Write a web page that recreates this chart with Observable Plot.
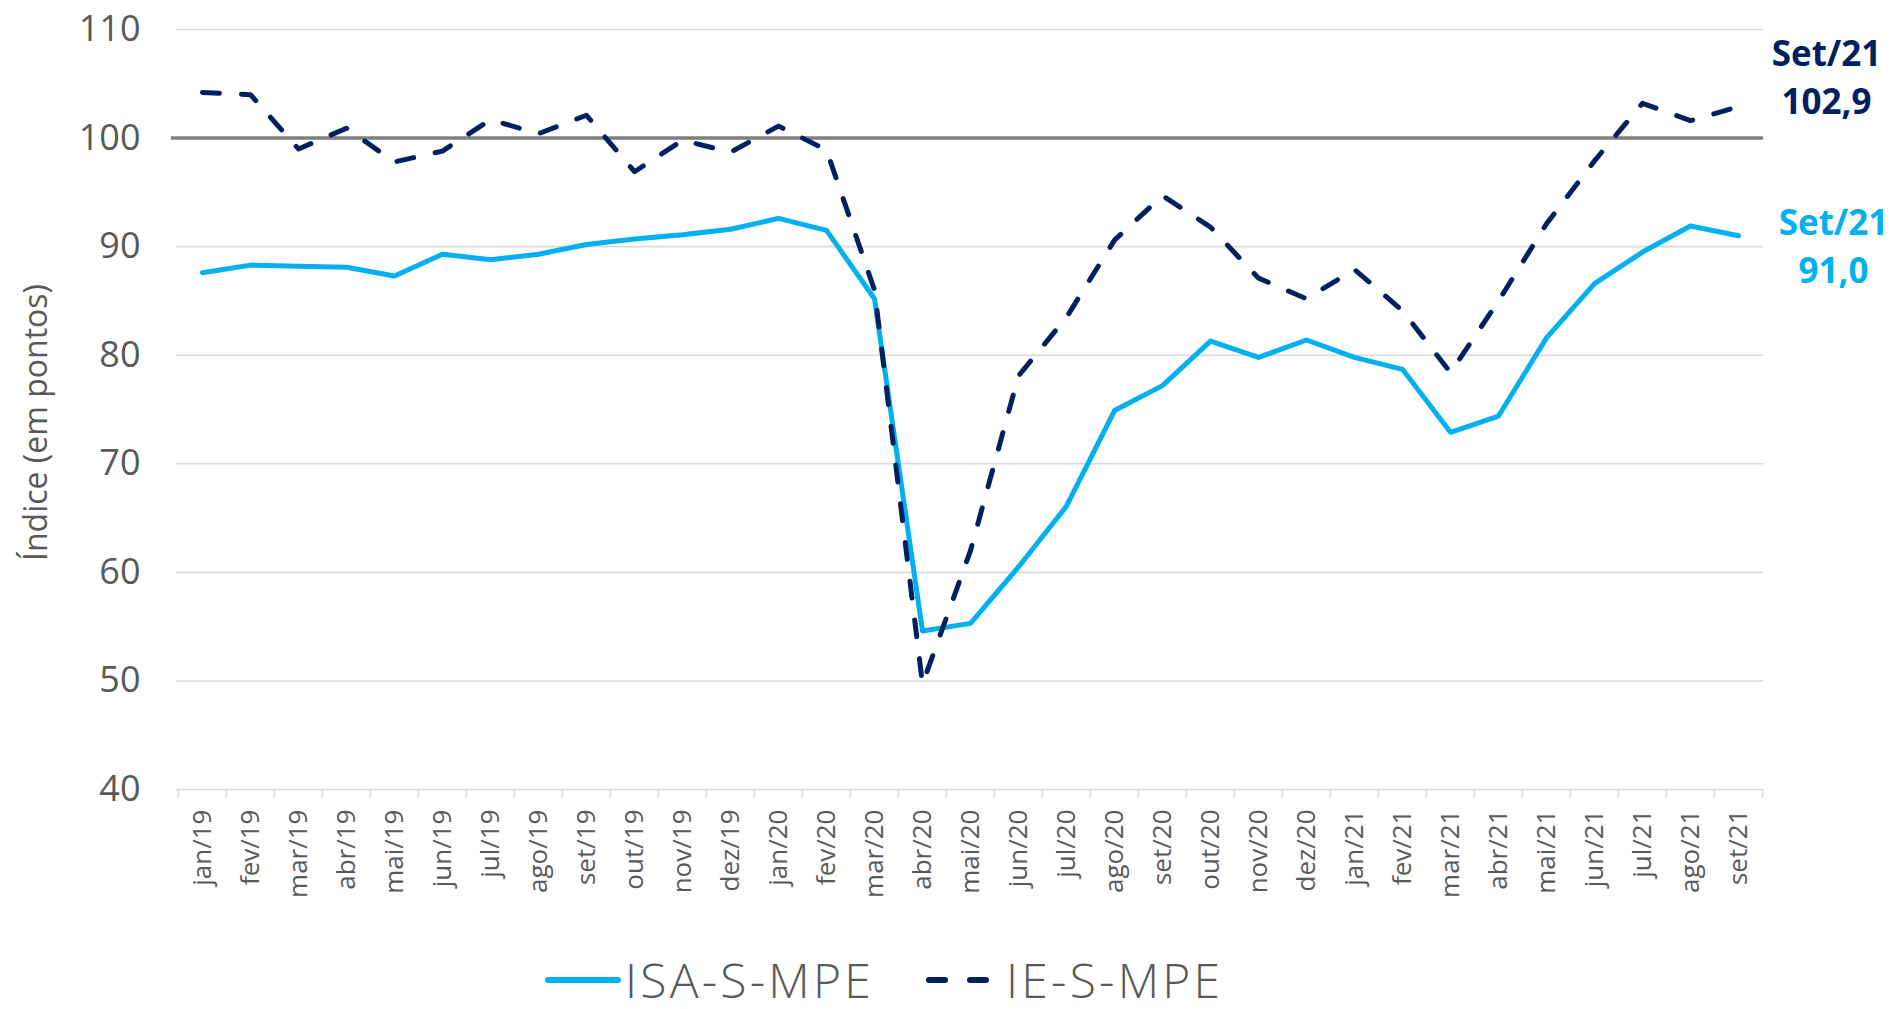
<!DOCTYPE html>
<html>
<head>
<meta charset="utf-8">
<script src="https://cdn.jsdelivr.net/npm/d3@7"></script>
<script src="https://cdn.jsdelivr.net/npm/@observablehq/plot@0.6"></script>
<style>
  html, body { margin: 0; padding: 0; background: #fff; }
  #wrap { position: relative; width: 1896px; height: 1009px; font-family: "Open Sans", sans-serif; }
  #legend { position: absolute; left: 545px; top: 955px; height: 50px; display: flex; align-items: center; color: #595959; font-size: 48px; line-height: 1; font-weight: 300; letter-spacing: 3.2px; white-space: nowrap; }
  #legend .item { display: flex; align-items: center; }
  #legend svg { display: block; }
</style>
</head>
<body>
<div id="wrap">
  <div id="chart"></div>
  <div id="legend"></div>
</div>
<script>
const months = ["jan/19","fev/19","mar/19","abr/19","mai/19","jun/19","jul/19","ago/19","set/19","out/19","nov/19","dez/19",
                "jan/20","fev/20","mar/20","abr/20","mai/20","jun/20","jul/20","ago/20","set/20","out/20","nov/20","dez/20",
                "jan/21","fev/21","mar/21","abr/21","mai/21","jun/21","jul/21","ago/21","set/21"];
const isa = [87.6, 88.3, 88.2, 88.1, 87.3, 89.3, 88.8, 89.3, 90.2, 90.7, 91.1, 91.6,
             92.6, 91.5, 85.2, 54.6, 55.3, 60.5, 66.1, 74.9, 77.2, 81.3, 79.8, 81.4,
             79.8, 78.7, 72.9, 74.4, 81.6, 86.6, 89.5, 91.9, 91.0];
const ie  = [104.2, 104.0, 99.0, 100.9, 97.8, 98.8, 101.7, 100.4, 102.1, 96.9, 99.8, 98.7,
             101.1, 98.9, 86.0, 49.7, 62.0, 78.1, 83.5, 90.6, 94.7, 91.8, 87.1, 85.2,
             87.9, 84.1, 78.4, 85.0, 92.1, 97.9, 103.2, 101.6, 102.9];
const seriesNames = ["ISA-S-MPE", "IE-S-MPE"];
const yTicks = [40, 50, 60, 70, 80, 90, 100, 110];
const refValue = [100];
const yTitle = "Índice (em pontos)";
const endLabel = "Set/21";

const cLight = "#00b0f0", cDark = "#002060", cText = "#595959", cGrid = "#d9d9d9";

const isaData = months.map((m, i) => ({month: m, value: isa[i]}));
const ieData = months.map((m, i) => ({month: m, value: ie[i]}));
const fmt = v => v.toFixed(1).replace(".", ",");
const last = months.length - 1;
const endIE = [{month: months[last], value: ie[last], text: endLabel + "\n" + fmt(ie[last])}];
const endISA = [{month: months[last], value: isa[last], text: endLabel + "\n" + fmt(isa[last])}];

const W = 1896, H = 915, mL = 176, mR = 133, mT = 29, mB = 126;
const step = (W - mL - mR) / months.length;

const chart = Plot.plot({
  width: W, height: H,
  marginLeft: mL, marginRight: mR, marginTop: mT, marginBottom: mB,
  style: {fontFamily: "'Open Sans', sans-serif", color: cText, background: "#fff", overflow: "visible"},
  x: {type: "band", domain: months, padding: 0},
  y: {domain: [40, 110]},
  marks: [
    Plot.gridY(yTicks, {stroke: cGrid, strokeOpacity: 1, strokeWidth: 1.6}),
    Plot.axisY(yTicks, {tickSize: 0, tickPadding: 36, fontSize: 36, fill: cText, label: null}),
    Plot.text([yTitle], {frameAnchor: "left", textAnchor: "middle", rotate: -90, dx: -140, dy: 13, fontSize: 32, fill: cText, letterSpacing: "3px"}),
    Plot.axisX({tickSize: 0, tickPadding: 20, tickRotate: -90, fontSize: 26, fill: cText, label: null, letterSpacing: "1.5px"}),
    Plot.axisX(months, {tickSize: 9, text: null, stroke: cGrid, strokeOpacity: 1, strokeWidth: 1.6, dx: -step / 2, label: null}),
    Plot.axisX([months[last]], {tickSize: 9, text: null, stroke: cGrid, strokeOpacity: 1, strokeWidth: 1.6, dx: step / 2, label: null}),
    Plot.ruleY(refValue, {stroke: "#7f7f7f", strokeWidth: 3.5, insetLeft: -5}),
    Plot.line(isaData, {x: "month", y: "value", stroke: cLight, strokeWidth: 5, strokeLinejoin: "round", strokeLinecap: "round"}),
    Plot.line(ieData, {x: "month", y: "value", stroke: cDark, strokeWidth: 5, strokeDasharray: "17,22", strokeLinejoin: "round", strokeLinecap: "round"}),
    Plot.text(endIE, {x: "month", y: "value", text: "text", dx: 88, dy: -32, fontSize: 35, fontWeight: "bold", fill: cDark, lineHeight: 1.37}),
    Plot.text(endISA, {x: "month", y: "value", text: "text", dx: 95, dy: 8, fontSize: 35, fontWeight: "bold", fill: cLight, lineHeight: 1.37})
  ]
});
document.getElementById("chart").appendChild(chart);

// legend
const legend = d3.select("#legend");
const it1 = legend.append("div").attr("class", "item");
const s1 = it1.append("svg").attr("width", 80).attr("height", 12);
s1.append("line").attr("x1", 3).attr("x2", 73).attr("y1", 6).attr("y2", 6)
  .attr("stroke", cLight).attr("stroke-width", 6).attr("stroke-linecap", "round");
it1.append("span").text(seriesNames[0]);
const it2 = legend.append("div").attr("class", "item").style("margin-left", "50px");
const s2 = it2.append("svg").attr("width", 82).attr("height", 12);
s2.append("line").attr("x1", 5).attr("x2", 70).attr("y1", 6).attr("y2", 6)
  .attr("stroke", cDark).attr("stroke-width", 6).attr("stroke-linecap", "round").attr("stroke-dasharray", "16,25");
it2.append("span").text(seriesNames[1]);
</script>
</body>
</html>
